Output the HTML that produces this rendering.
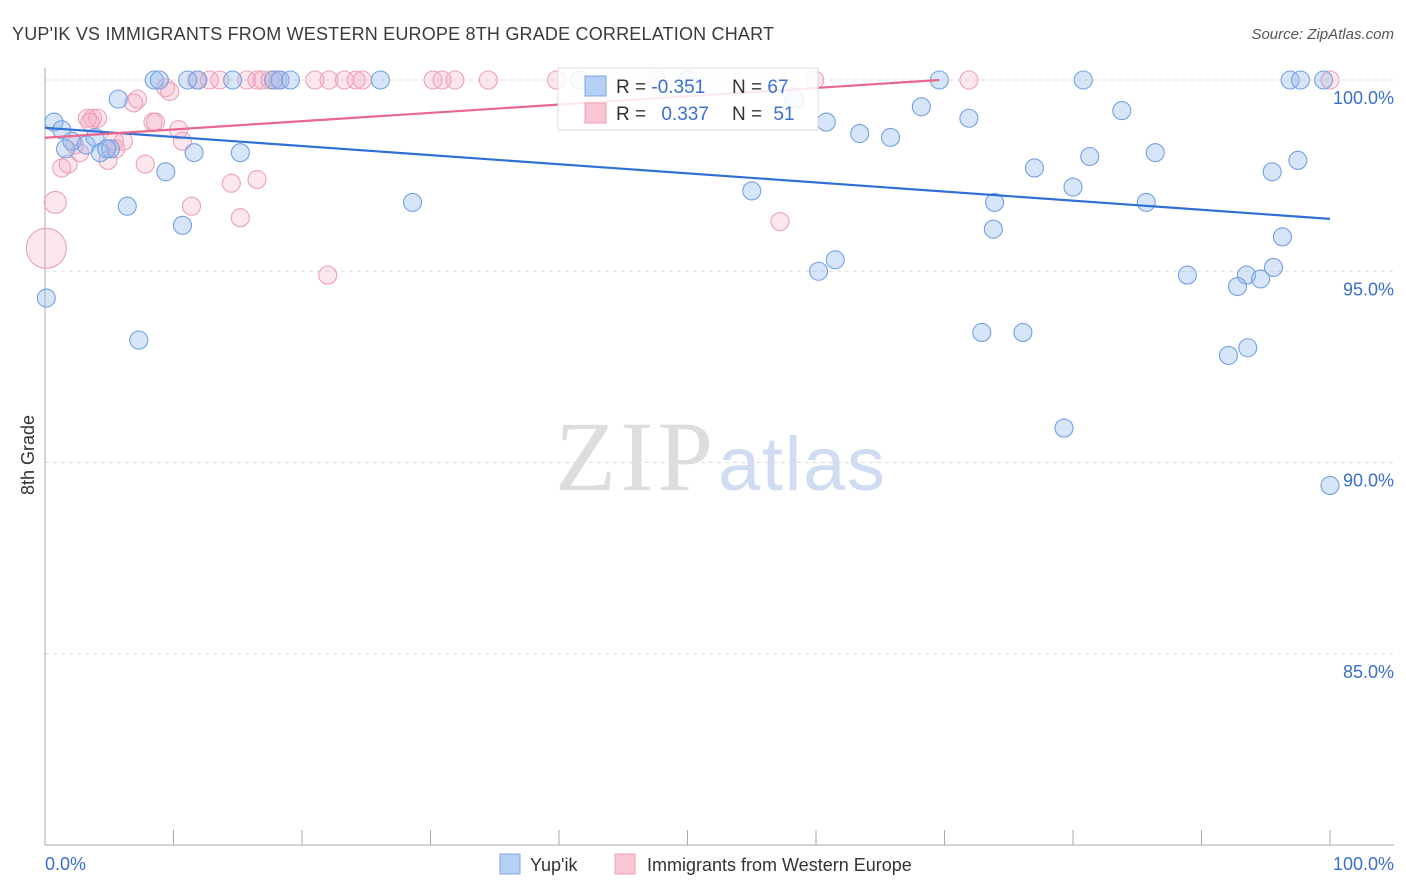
<!DOCTYPE html>
<html><head><meta charset="utf-8">
<style>
body{margin:0;background:#fff;font-family:"Liberation Sans",sans-serif;}
#wrap{position:relative;width:1406px;height:892px;overflow:hidden;}
</style></head>
<body>
<div id="wrap">
<svg id="chart" width="1406" height="892" xmlns="http://www.w3.org/2000/svg">
<text x="12" y="40" font-size="18" fill="#3a3a3a" textLength="762">YUP'IK VS IMMIGRANTS FROM WESTERN EUROPE 8TH GRADE CORRELATION CHART</text>
<text x="1394" y="39" font-size="15" fill="#555" font-style="italic" text-anchor="end">Source: ZipAtlas.com</text>
<g id="grid"></g>
<text x="555" y="490" font-size="100" fill="#ddd" font-family="Liberation Serif, serif" textLength="158">ZIP</text>
<text x="718" y="490" font-size="76" fill="#cfdcf2" textLength="167">atlas</text>
<g id="pts"></g>
<g id="lines"></g>
<text transform="translate(34,455) rotate(-90)" font-size="18" fill="#333" text-anchor="middle">8th Grade</text>
<text x="45" y="870" font-size="18" fill="#3a6fd0">0.0%</text>
<text x="1394" y="870" font-size="18" fill="#3a6fd0" text-anchor="end">100.0%</text>
<g>
<rect x="558" y="68" width="260" height="62" fill="#fff" fill-opacity="0.85" stroke="#ddd"/>
<rect x="585" y="76" width="21" height="20" fill="#b5cff5" stroke="#7ba6e8"/>
<rect x="585" y="103" width="21" height="20" fill="#f9c6d4" stroke="#ee9fb6"/>
<text x="616" y="93" font-size="19" fill="#333">R = <tspan fill="#3a6fd0">-0.351</tspan></text>
<text x="732" y="93" font-size="19" fill="#333">N = <tspan fill="#3a6fd0">67</tspan></text>
<text x="616" y="120" font-size="19" fill="#333">R = <tspan fill="#3a6fd0" dx="10">0.337</tspan></text>
<text x="732" y="120" font-size="19" fill="#333">N = <tspan fill="#3a6fd0" dx="6">51</tspan></text>
</g>
<g>
<rect x="500" y="854" width="20" height="20" fill="#b5cff5" stroke="#7ba6e8"/>
<text x="530" y="871" font-size="18" fill="#333">Yup'ik</text>
</g>
<g>
<rect x="615" y="854" width="20" height="20" fill="#f9c6d4" stroke="#ee9fb6"/>
<text x="647" y="871" font-size="18" fill="#333">Immigrants from Western Europe</text>
</g>
</svg>
</div>
<script>
const yTicks=[100,95,90,85];
const yTickLabels=["100.0%","95.0%","90.0%","85.0%"];
const blueX=[8.5,8.9,11.9,14.6,17.8,18.3,19.1,26.1,41.6,50,69.6,80.8,96.9,97.7,99.5,0.7,1.3,2.1,3.2,3.9,4.3,5.1,5.7,1.6,4.8,6.4,9.4,10.7,11.6,15.2,7.3,0.1,28.6,55,58.3,60.8,63.4,65.8,68.2,71.9,60.2,61.5,72.9,76.1,73.8,73.9,77,80,81.3,83.8,85.7,86.4,79.3,88.9,93.5,92.8,94.6,95.6,96.3,95.5,97.5,92.1,93.6,100,11.1];
const blueY=[100,100,100,100,100,100,100,100,100,100,100,100,100,100,100,98.9,98.7,98.4,98.3,98.5,98.1,98.2,99.5,98.2,98.2,96.7,97.6,96.2,98.1,98.1,93.2,94.3,96.8,97.1,99.5,98.9,98.6,98.5,99.3,99,95,95.3,93.4,93.4,96.1,96.8,97.7,97.2,98,99.2,96.8,98.1,90.9,94.9,94.9,94.6,94.8,95.1,95.9,97.6,97.9,92.8,93,89.4,100];
const pinkX=[0.1,0.8,1.3,1.8,2.7,3.3,3.7,4.9,5.4,6.1,6.9,7.2,7.8,8.4,8.6,9.4,9.7,10.4,10.7,11.4,11.8,12.8,13.6,14.5,15.2,15.7,16.5,16.9,17.5,18.1,16.5,21,22.1,23.3,24.2,24.7,22,30.2,30.9,31.9,34.5,39.8,47.6,57.2,59.9,71.9,100,4.1,2.3,3.5,5.5];
const pinkY=[95.6,96.8,97.7,97.8,98.1,99,99,97.9,98.4,98.4,99.4,99.5,97.8,98.9,98.9,99.8,99.7,98.7,98.4,96.7,100,100,100,97.3,96.4,100,100,100,100,100,97.4,100,100,100,100,100,94.9,100,100,100,100,100,100,96.3,100,100,100,99,98.3,98.9,98.2];
const pinkR=[20,11,9,9,9,9,9,9,9,9,9,9,9,9,9,9,9,9,9,9,9,9,9,9,9,9,9,9,9,9,9,9,9,9,9,9,9,9,9,9,9,9,9,9,9,9,9,9,9,9,9];
const blueTrend=[98.75,96.37];
const pinkTrend=[98.49,100.0,69.6];
const NS="http://www.w3.org/2000/svg";
const X0=45,X1=1330,Y100=80,PXPER=38.25;
function sx(v){return X0+(X1-X0)*v/100;}
function sy(v){return Y100+(100-v)*PXPER;}
function mk(t,a,p){const e=document.createElementNS(NS,t);for(const k in a)e.setAttribute(k,a[k]);p.appendChild(e);return e;}
const grid=document.getElementById('grid');
yTicks.forEach((t,i)=>{
 const l=mk('line',{x1:X0,x2:1394,y1:sy(t),y2:sy(t),stroke:'#ddd','stroke-dasharray':'4,4'},grid);
 
 
 const tx=mk('text',{x:1394,y:sy(t)+24,'font-size':18,fill:'#3a6fd0','text-anchor':'end'},grid);
 tx.textContent=yTickLabels[i];
 
 
});
const ax=mk('line',{x1:X0,x2:X0,y1:68,y2:845,stroke:'#aaa'},grid);


const bx=mk('line',{x1:X0,x2:1394,y1:845,y2:845,stroke:'#aaa'},grid);


for(let i=0;i<=10;i++){
 const tk=mk('line',{x1:sx(i*10),x2:sx(i*10),y1:830,y2:845,stroke:'#aaa'},grid);
 
 
}
const pts=document.getElementById('pts');
pinkX.forEach((v,i)=>{
 const c=mk('circle',{cx:sx(v),cy:sy(pinkY[i]),r:pinkR[i],fill:'rgba(246,168,190,0.28)',stroke:'#ee9fb8','stroke-width':1.1},pts);
 
 
});
blueX.forEach((v,i)=>{
 const c=mk('circle',{cx:sx(v),cy:sy(blueY[i]),r:9,fill:'rgba(150,186,236,0.38)',stroke:'#74a0e2','stroke-width':1.1},pts);
 
 
});
const lines=document.getElementById('lines');
const bl=mk('line',{x1:sx(0),y1:sy(blueTrend[0]),x2:sx(100),y2:sy(blueTrend[1]),stroke:'#2f6fd6','stroke-width':2.2},lines);


const pl=mk('line',{x1:sx(0),y1:sy(pinkTrend[0]),x2:sx(pinkTrend[2]),y2:sy(pinkTrend[1]),stroke:'#e8668f','stroke-width':2.2},lines);


</script>
</body></html>
